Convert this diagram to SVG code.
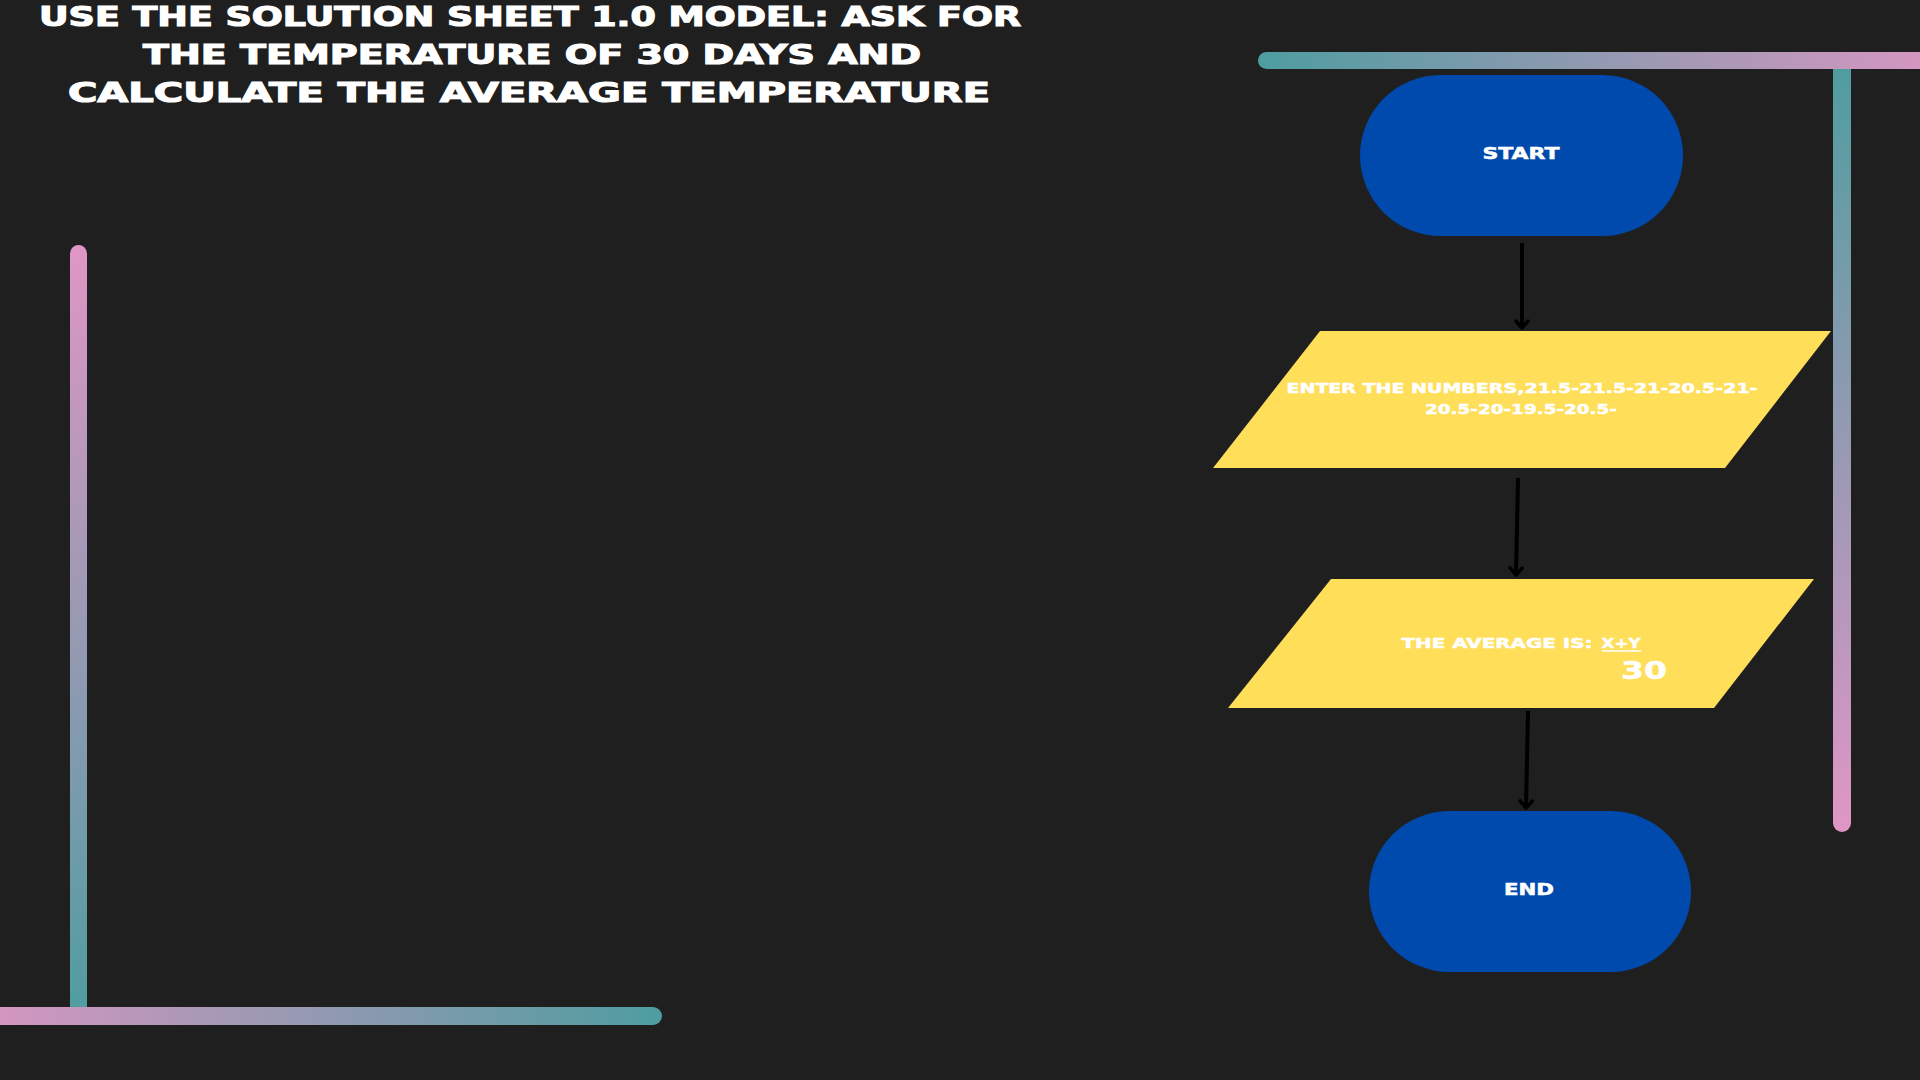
<svg xmlns="http://www.w3.org/2000/svg" width="1920" height="1080" viewBox="0 0 1920 1080">
<style>
.title{font-family:"DejaVu Sans","Liberation Sans",sans-serif;font-weight:bold;font-size:26px;fill:#ffffff;stroke:#ffffff;stroke-width:1.1px;text-anchor:middle}
.lbl{font-family:"DejaVu Sans","Liberation Sans",sans-serif;font-weight:bold;fill:#ffffff;stroke:#ffffff;stroke-width:0.5px;text-anchor:middle}
.term{fill:#004aad}
.io{fill:#ffde59}
.conn{stroke:#000000;stroke-width:4;fill:none;marker-end:url(#arr)}
</style>
<defs>
<linearGradient id="gTL" x1="0" y1="0" x2="1" y2="0"><stop offset="0" stop-color="#4e9da0"/><stop offset="1" stop-color="#d796c2"/></linearGradient>
<linearGradient id="gRV" x1="0" y1="0" x2="0" y2="1"><stop offset="0" stop-color="#4e9da0"/><stop offset="1" stop-color="#e096c6"/></linearGradient>
<linearGradient id="gLV" x1="0" y1="0" x2="0" y2="1"><stop offset="0" stop-color="#e096c6"/><stop offset="1" stop-color="#4e9da0"/></linearGradient>
<linearGradient id="gBH" x1="0" y1="0" x2="1" y2="0"><stop offset="0" stop-color="#d796c2"/><stop offset="1" stop-color="#4e9da0"/></linearGradient>
<marker id="arr" viewBox="-9 -8 11 16" markerWidth="11" markerHeight="16" refX="0" refY="0" orient="auto" markerUnits="userSpaceOnUse">
<path d="M-7,-6 L0,0 L-7,6" stroke="#000000" stroke-width="3.5" fill="none" stroke-linecap="round" stroke-linejoin="round"/>
</marker>
</defs>
<rect x="0" y="0" width="1920" height="1080" fill="#1f1f1f"/>
<g id="decor">
<rect x="1833" y="60" width="18" height="772" rx="9" fill="url(#gRV)"/>
<rect x="1258" y="52" width="680" height="17" rx="8.5" fill="url(#gTL)"/>
<rect x="70" y="245" width="17" height="775" rx="8.5" fill="url(#gLV)"/>
<rect x="-20" y="1007" width="682" height="18" rx="9" fill="url(#gBH)"/>
</g>
<g id="title">
<text class="title" x="530" y="26" textLength="982" lengthAdjust="spacingAndGlyphs">USE THE SOLUTION SHEET 1.0 MODEL: ASK FOR</text>
<text class="title" x="532" y="64" textLength="778" lengthAdjust="spacingAndGlyphs">THE TEMPERATURE OF 30 DAYS AND</text>
<text class="title" x="529" y="102" textLength="922" lengthAdjust="spacingAndGlyphs">CALCULATE THE AVERAGE TEMPERATURE</text>
</g>
<g id="connectors">
<line class="conn" x1="1522" y1="243" x2="1522" y2="328"/>
<line class="conn" x1="1518" y1="478" x2="1516" y2="575"/>
<line class="conn" x1="1528" y1="711" x2="1526" y2="808"/>
</g>
<g id="start">
<rect class="term" x="1360" y="75" width="323" height="161" rx="80.5"/>
<text class="lbl" x="1521" y="159" font-size="15" textLength="77" lengthAdjust="spacingAndGlyphs">START</text>
</g>
<g id="input">
<polygon class="io" points="1320,331 1831,331 1725,468 1213,468"/>
<text class="lbl" x="1522" y="393" font-size="14" textLength="471" lengthAdjust="spacingAndGlyphs">ENTER THE NUMBERS,21.5-21.5-21-20.5-21-</text>
<text class="lbl" x="1521" y="414" font-size="14" textLength="192" lengthAdjust="spacingAndGlyphs">20.5-20-19.5-20.5-</text>
</g>
<g id="output">
<polygon class="io" points="1331,579 1814,579 1714,708 1228,708"/>
<text class="lbl" x="1497" y="648" font-size="14" textLength="191" lengthAdjust="spacingAndGlyphs">THE AVERAGE IS:</text>
<text class="lbl" x="1621" y="648" font-size="14" textLength="39" lengthAdjust="spacingAndGlyphs">X+Y</text>
<line x1="1602" y1="651" x2="1641" y2="651" stroke="#ffffff" stroke-width="1.5"/>
<text class="lbl" x="1644" y="679" font-size="25" textLength="46" lengthAdjust="spacingAndGlyphs">30</text>
</g>
<g id="end">
<rect class="term" x="1369" y="811" width="322" height="161" rx="80.5"/>
<text class="lbl" x="1529" y="895" font-size="15" textLength="50" lengthAdjust="spacingAndGlyphs">END</text>
</g>
</svg>
